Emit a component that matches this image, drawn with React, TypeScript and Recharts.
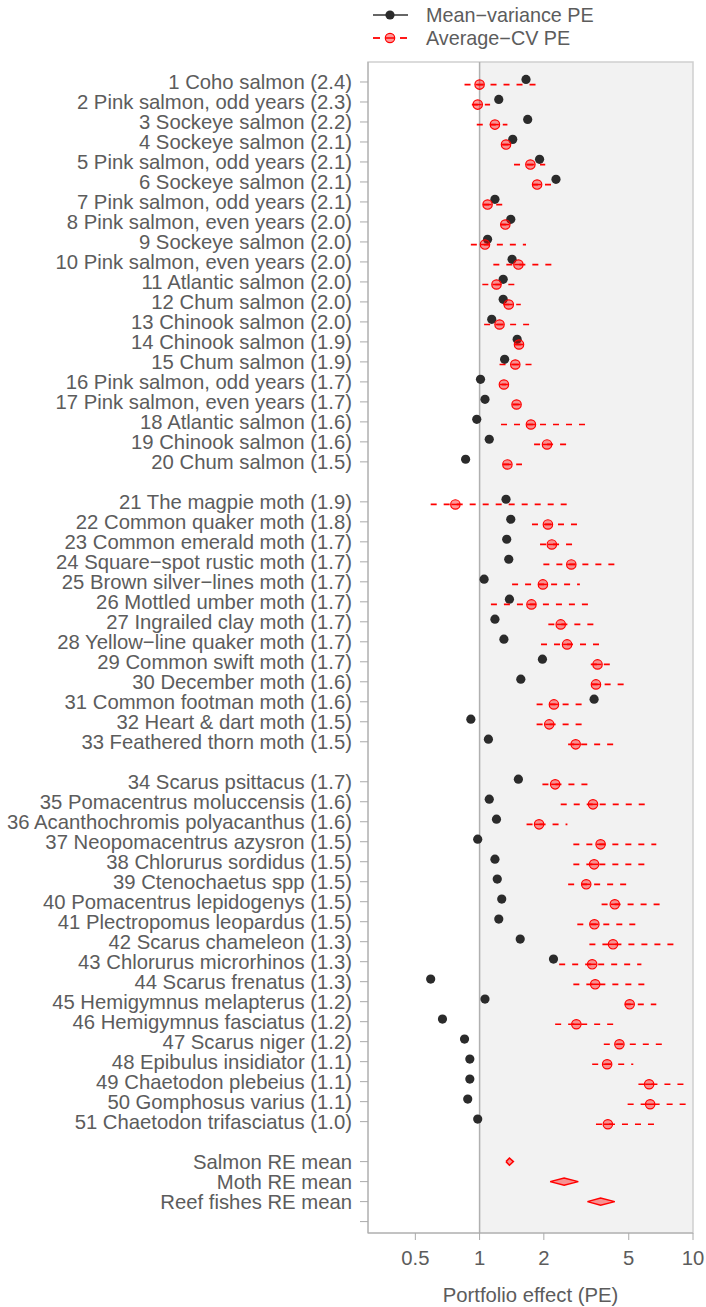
import React from "react";
import {
  ScatterChart,
  Scatter,
  XAxis,
  YAxis,
  ReferenceArea,
  ReferenceLine,
} from "recharts";

const speciesLabels = [
  "1 Coho salmon (2.4)",
  "2 Pink salmon, odd years (2.3)",
  "3 Sockeye salmon (2.2)",
  "4 Sockeye salmon (2.1)",
  "5 Pink salmon, odd years (2.1)",
  "6 Sockeye salmon (2.1)",
  "7 Pink salmon, odd years (2.1)",
  "8 Pink salmon, even years (2.0)",
  "9 Sockeye salmon (2.0)",
  "10 Pink salmon, even years (2.0)",
  "11 Atlantic salmon (2.0)",
  "12 Chum salmon (2.0)",
  "13 Chinook salmon (2.0)",
  "14 Chinook salmon (1.9)",
  "15 Chum salmon (1.9)",
  "16 Pink salmon, odd years (1.7)",
  "17 Pink salmon, even years (1.7)",
  "18 Atlantic salmon (1.6)",
  "19 Chinook salmon (1.6)",
  "20 Chum salmon (1.5)",
  "21 The magpie moth (1.9)",
  "22 Common quaker moth (1.8)",
  "23 Common emerald moth (1.7)",
  "24 Square\u2212spot rustic moth (1.7)",
  "25 Brown silver\u2212lines moth (1.7)",
  "26 Mottled umber moth (1.7)",
  "27 Ingrailed clay moth (1.7)",
  "28 Yellow\u2212line quaker moth (1.7)",
  "29 Common swift moth (1.7)",
  "30 December moth (1.6)",
  "31 Common footman moth (1.6)",
  "32 Heart & dart moth (1.5)",
  "33 Feathered thorn moth (1.5)",
  "34 Scarus psittacus (1.7)",
  "35 Pomacentrus moluccensis (1.6)",
  "36 Acanthochromis polyacanthus (1.6)",
  "37 Neopomacentrus azysron (1.5)",
  "38 Chlorurus sordidus (1.5)",
  "39 Ctenochaetus spp (1.5)",
  "40 Pomacentrus lepidogenys (1.5)",
  "41 Plectropomus leopardus (1.5)",
  "42 Scarus chameleon (1.3)",
  "43 Chlorurus microrhinos (1.3)",
  "44 Scarus frenatus (1.3)",
  "45 Hemigymnus melapterus (1.2)",
  "46 Hemigymnus fasciatus (1.2)",
  "47 Scarus niger (1.2)",
  "48 Epibulus insidiator (1.1)",
  "49 Chaetodon plebeius (1.1)",
  "50 Gomphosus varius (1.1)",
  "51 Chaetodon trifasciatus (1.0)",
];

// species per group: salmon, moths, reef fishes
const groupSizes = [20, 13, 18];

const meanVariancePE = [
  1.65, 1.23, 1.68, 1.43, 1.91, 2.28, 1.18, 1.4, 1.09, 1.42, 1.29, 1.29, 1.14,
  1.5, 1.31, 1.01, 1.06, 0.97, 1.11, 0.86,
  1.33, 1.4, 1.34, 1.37, 1.05, 1.38, 1.18, 1.3, 1.97, 1.56, 3.44, 0.91, 1.1,
  1.52, 1.11, 1.2, 0.98, 1.18, 1.21, 1.27, 1.23, 1.55, 2.22, 0.59, 1.06, 0.67,
  0.85, 0.9, 0.9, 0.88, 0.98,
];

const averageCvPE = [
  1.0, 0.98, 1.18, 1.33, 1.73, 1.86, 1.09, 1.32, 1.06, 1.52, 1.2, 1.37, 1.24,
  1.53, 1.47, 1.3, 1.49, 1.74, 2.07, 1.35,
  0.77, 2.09, 2.18, 2.69, 1.98, 1.75, 2.4, 2.57, 3.57, 3.51, 2.23, 2.12, 2.82,
  2.26, 3.4, 1.9, 3.69, 3.44, 3.16, 4.3, 3.45, 4.22, 3.37, 3.48, 5.05, 2.84,
  4.52, 3.96, 6.23, 6.3, 3.99,
];

const averageCvLow = [
  0.85, 0.92, 0.97, 1.28, 1.45, 1.76, 1.04, 1.25, 0.91, 1.16, 1.03, 1.29, 1.05,
  1.47, 1.24, 1.27, 1.43, 1.26, 1.8, 1.29,
  0.59, 1.76, 1.92, 1.99, 1.42, 1.13, 2.1, 1.94, 3.32, 3.35, 1.85, 1.85, 2.6,
  1.97, 2.4, 1.66, 2.75, 2.75, 2.6, 3.73, 2.87, 3.27, 2.36, 2.75, 4.79, 2.26,
  3.82, 3.37, 5.55, 4.94, 3.51,
];

const averageCvHigh = [
  1.84, 1.12, 1.35, 1.37, 2.03, 2.26, 1.34, 1.42, 1.65, 2.2, 1.47, 1.56, 1.71,
  1.66, 1.77, 1.33, 1.6, 3.13, 2.56, 1.58,
  2.65, 2.87, 2.73, 4.38, 2.95, 3.31, 3.46, 3.69, 4.11, 4.74, 3.06, 3.04, 4.27,
  3.24, 5.97, 2.58, 6.73, 5.98, 4.97, 7.11, 5.47, 8.25, 5.73, 6.04, 6.73, 4.27,
  7.24, 5.25, 9.15, 9.4, 6.63,
];

const reLabels = ["Salmon RE mean", "Moth RE mean", "Reef fishes RE mean"];
const reMean = [1.38, 2.49, 3.69];
const reLow = [1.33, 2.14, 3.2];
const reHigh = [1.44, 2.9, 4.3];

const xTicks = [0.5, 1, 2, 5, 10];

const FONT = "'Liberation Sans', Arial, sans-serif";
const TEXT = "#5c5c5c";
const RED = "#ff0000";
const FS = 20.3;

// row positions: one blank row between groups
const rowPos: number[] = [];
{
  let p = 0;
  groupSizes.forEach((n) => {
    for (let i = 0; i < n; i++) rowPos.push(++p);
    p++;
  });
}
const rePos = reLabels.map((_, k) => rowPos[rowPos.length - 1] + 2 + k);
const yTicks = [...rowPos, ...rePos, rePos[rePos.length - 1] + 1];
const tickText = new Map<number, string>();
rowPos.forEach((p, i) => tickText.set(p, speciesLabels[i]));
rePos.forEach((p, i) => tickText.set(p, reLabels[i]));

const mvData = meanVariancePE.map((v, i) => ({ x: v, y: rowPos[i] - 0.13 }));
const acData = averageCvPE.map((v, i) => ({ x: v, y: rowPos[i] + 0.13 }));

const BlackDot = (props: any) => (
  <circle cx={props.cx} cy={props.cy} r={4.6} fill="#2b2b2b" />
);

const RedDot = (props: any) => (
  <g>
    <circle
      cx={props.cx}
      cy={props.cy}
      r={4.7}
      fill="rgba(255,0,0,0.4)"
      stroke={RED}
      strokeWidth={1.2}
    />
    <line
      x1={props.cx - 4}
      x2={props.cx + 4}
      y1={props.cy}
      y2={props.cy}
      stroke={RED}
      strokeWidth={1.5}
    />
  </g>
);

const Nothing = () => <g />;

function Legend() {
  return (
    <svg
      width={706}
      height={56}
      style={{ position: "absolute", left: 0, top: 0 }}
    >
      <line x1={373} x2={408} y1={15} y2={15} stroke="#333" strokeWidth={1.5} />
      <circle cx={390} cy={15} r={4.6} fill="#2b2b2b" />
      <text x={426} y={15} dy="0.35em" fontSize={19.8} fill={TEXT} fontFamily={FONT}>
        Mean{"\u2212"}variance PE
      </text>
      <line x1={373} x2={380} y1={38} y2={38} stroke={RED} strokeWidth={1.8} />
      <line x1={400} x2={407} y1={38} y2={38} stroke={RED} strokeWidth={1.8} />
      <RedDot cx={390} cy={38} />
      <text x={426} y={38} dy="0.35em" fontSize={19.8} fill={TEXT} fontFamily={FONT}>
        Average{"\u2212"}CV PE
      </text>
    </svg>
  );
}

export default function App() {
  return (
    <div
      style={{
        position: "absolute",
        left: 0,
        top: 0,
        width: 706,
        height: 1307,
        background: "#fff",
      }}
    >
      <ScatterChart
        width={706}
        height={1307}
        margin={{ top: 62, right: 13, bottom: 0, left: 0 }}
      >
        <XAxis
          type="number"
          dataKey="x"
          scale="log"
          domain={[0.3, 10]}
          allowDataOverflow
          ticks={xTicks}
          interval={0}
          height={74}
          tickSize={7}
          tickMargin={11}
          stroke="#aaaaaa"
          tick={{ fill: TEXT, fontSize: FS, fontFamily: FONT }}
          label={{
            value: "Portfolio effect (PE)",
            position: "insideBottom",
            offset: 5,
            fill: TEXT,
            fontSize: FS,
            fontFamily: FONT,
          }}
        />
        <YAxis
          type="number"
          dataKey="y"
          domain={[0, 58.57]}
          allowDataOverflow
          reversed
          ticks={yTicks}
          interval={0}
          width={368}
          tickSize={8}
          tickMargin={8}
          stroke="#aaaaaa"
          tickFormatter={(v: number) => tickText.get(v) ?? ""}
          tick={{ fill: TEXT, fontSize: FS, fontFamily: FONT }}
        />
        <ReferenceArea
          x1={1}
          x2={10}
          y1={0}
          y2={58.57}
          fill="#f2f2f2"
          fillOpacity={1}
          stroke="none"
          ifOverflow="visible"
        />
        <ReferenceArea
          x1={0.3}
          x2={10}
          y1={0}
          y2={58.57}
          fill="none"
          stroke="#cfcfcf"
          strokeWidth={1.5}
          ifOverflow="visible"
        />
        <ReferenceLine x={1} stroke="#b0b0b0" strokeWidth={1.5} />

        <Scatter data={mvData} shape={BlackDot} isAnimationActive={false} />
        <Scatter data={acData} shape={RedDot} isAnimationActive={false} />

        {averageCvPE.map((_, i) => (
          <Scatter
            key={"ci" + i}
            data={[
              { x: averageCvLow[i], y: rowPos[i] + 0.13 },
              { x: averageCvHigh[i], y: rowPos[i] + 0.13 },
            ]}
            shape={Nothing}
            line={{ stroke: RED, strokeWidth: 1.7, strokeDasharray: "6 7" }}
            isAnimationActive={false}
          />
        ))}

        {reMean.map((m, k) => (
          <Scatter
            key={"re" + k}
            data={[
              { x: reLow[k], y: rePos[k] },
              { x: m, y: rePos[k] - 0.18 },
              { x: reHigh[k], y: rePos[k] },
              { x: m, y: rePos[k] + 0.18 },
              { x: reLow[k], y: rePos[k] },
            ]}
            shape={Nothing}
            line={{
              stroke: RED,
              strokeWidth: 1.5,
              fill: "rgba(255,0,0,0.4)",
            }}
            isAnimationActive={false}
          />
        ))}
      </ScatterChart>
      <Legend />
    </div>
  );
}
